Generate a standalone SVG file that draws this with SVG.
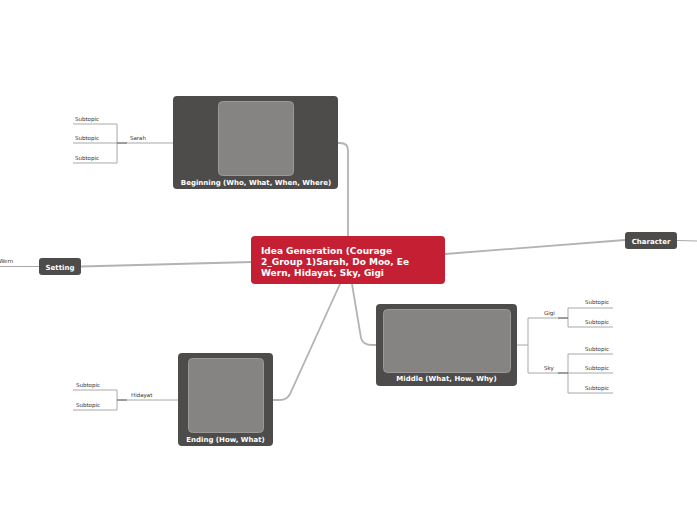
<svg xmlns="http://www.w3.org/2000/svg" width="697" height="520" viewBox="0 0 697 520">
<style>
.main{fill:#4d4c4a}
.img{fill:#858482;stroke:#9a9997;stroke-width:1}
.lbl{font-family:"DejaVu Sans",Verdana,sans-serif;font-weight:bold;fill:#ffffff;text-anchor:middle}
.ct{font-family:"DejaVu Sans",Verdana,sans-serif;font-weight:bold;fill:#ffffff;font-size:9px}
.sub{font-family:"DejaVu Sans",Verdana,sans-serif;fill:#333333;font-size:5.5px}
.conn{fill:none;stroke:#b3b3b3;stroke-width:1.8;stroke-linecap:round}
.thin{fill:none;stroke:#a8a8a8;stroke-width:1}
.dark{fill:none;stroke:#666666;stroke-width:1}
</style>
<rect width="697" height="520" fill="#ffffff"/>
<g id="connectors">
  <path class="conn" d="M348,238 L348,150 Q348,143 340,143 L338,143"/>
  <path class="conn" d="M252,262 L81,266.5"/>
  <path class="conn" d="M445,254 L625,240"/>
  <path class="conn" d="M340,284 L290,394 Q287,400 280,400 L273,400"/>
  <path class="conn" d="M352,284 L361,338 Q363,345 372,345 L376,345"/>
  <path class="thin" d="M677,240.5 L697,241"/>
  <path class="thin" d="M39,266.5 L0,266.5"/>
  <path class="thin" d="M173,143 L117,143 M117,124 L117,163 M73,124 L117,124 M73,143 L117,143 M73,163 L117,163"/>
  <path class="dark" d="M117,143 L127,143"/>
  <path class="thin" d="M178,400 L117,400 M117,390 L117,410 M73,390 L117,390 M73,410 L117,410"/>
  <path class="dark" d="M117,400 L127,400"/>
  <path class="thin" d="M517,345 L528,345 M528,318 L528,373 M528,318 L568,318 M528,373 L568,373"/>
  <path class="thin" d="M568,308 L568,327 M568,308 L613,308 M568,327 L613,327"/>
  <path class="dark" d="M558,318 L568,318"/>
  <path class="thin" d="M568,354 L568,393 M568,354 L613,354 M568,373 L613,373 M568,393 L613,393"/>
  <path class="dark" d="M558,373 L568,373"/>
</g>
<g id="center">
  <rect x="251" y="236" width="194" height="48" rx="4" fill="#c41f33"/>
  <text class="ct" x="261" y="254">Idea Generation (Courage</text>
  <text class="ct" x="261" y="265">2_Group 1)Sarah, Do Moo, Ee</text>
  <text class="ct" x="261" y="276">Wern, Hidayat, Sky, Gigi</text>
</g>
<g id="beginning">
  <rect class="main" x="173" y="96" width="165" height="93" rx="4"/>
  <rect class="img" x="218.5" y="101.5" width="75" height="74" rx="4"/>
  <text class="lbl" x="256" y="185" font-size="7px">Beginning (Who, What, When, Where)</text>
</g>
<g id="middle">
  <rect class="main" x="376" y="304" width="141" height="82" rx="4"/>
  <rect class="img" x="383.5" y="309.5" width="127" height="63" rx="4"/>
  <text class="lbl" x="446.5" y="381" font-size="7px">Middle (What, How, Why)</text>
</g>
<g id="ending">
  <rect class="main" x="178" y="353" width="95" height="93" rx="4"/>
  <rect class="img" x="188.5" y="358.5" width="75" height="74" rx="4"/>
  <text class="lbl" x="225.5" y="442" font-size="7px">Ending (How, What)</text>
</g>
<g id="setting">
  <rect class="main" x="39" y="258" width="42" height="17" rx="3"/>
  <text class="lbl" x="60" y="269.5" font-size="7px">Setting</text>
</g>
<g id="character">
  <rect class="main" x="625" y="232" width="52" height="17" rx="3"/>
  <text class="lbl" x="651" y="243.5" font-size="7px">Character</text>
</g>
<g id="sarah">
  <text class="sub" x="130" y="140">Sarah</text>
  <text class="sub" x="75" y="121">Subtopic</text>
  <text class="sub" x="75" y="140">Subtopic</text>
  <text class="sub" x="75" y="160">Subtopic</text>
</g>
<g id="hidayat">
  <text class="sub" x="131" y="397">Hidayat</text>
  <text class="sub" x="76" y="387">Subtopic</text>
  <text class="sub" x="76" y="407">Subtopic</text>
</g>
<g id="gigi">
  <text class="sub" x="544" y="315">Gigi</text>
  <text class="sub" x="585" y="304">Subtopic</text>
  <text class="sub" x="585" y="324">Subtopic</text>
</g>
<g id="sky">
  <text class="sub" x="544" y="370">Sky</text>
  <text class="sub" x="585" y="351">Subtopic</text>
  <text class="sub" x="585" y="370">Subtopic</text>
  <text class="sub" x="585" y="390">Subtopic</text>
</g>
<g id="wern">
  <text class="sub" x="-1" y="263">Wern</text>
</g>
</svg>
